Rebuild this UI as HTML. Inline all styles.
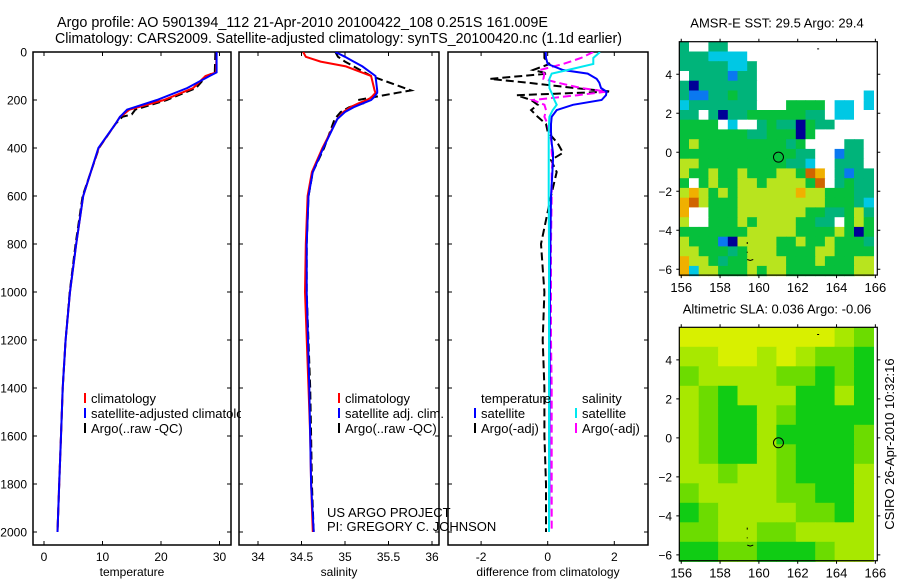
<!DOCTYPE html>
<html><head><meta charset="utf-8">
<style>
html,body{margin:0;padding:0;background:#fff;}
svg{display:block;font-family:"Liberation Sans",sans-serif;}
</style></head>
<body>
<svg id="fig" width="900" height="580" viewBox="0 0 900 580" xmlns="http://www.w3.org/2000/svg">
<defs>
<clipPath id="cp1"><rect x="33" y="52" width="198" height="493"/></clipPath>
<clipPath id="cp2"><rect x="239" y="52" width="200" height="493"/></clipPath>
<clipPath id="cp3"><rect x="448" y="52" width="200" height="493"/></clipPath>
<clipPath id="leg1"><rect x="0" y="380" width="241" height="60"/></clipPath>
</defs>
<text x="57" y="27" font-size="15" textLength="491" lengthAdjust="spacingAndGlyphs">Argo profile: AO 5901394_112 21-Apr-2010 20100422_108 0.251S 161.009E</text>
<text x="55" y="43" font-size="15" textLength="567" lengthAdjust="spacingAndGlyphs">Climatology: CARS2009. Satellite-adjusted climatology: synTS_20100420.nc (1.1d earlier)</text>
<g id="panels"></g>
<g id="maps"></g>
<text transform="translate(894,444) rotate(-90)" font-size="13" text-anchor="middle">CSIRO 26-Apr-2010 10:32:16</text>
</svg>
<script>
// ---------- profile data ----------
const depths = [0,85,100,150,200,240,260,270,300,400,500,600,800,1000,1200,1400,1600,1800,2000];
const tempClim = [29.5,29.4,27.6,25.5,20.5,14.6,13.6,13.0,12.2,9.35,8.0,6.7,5.5,4.45,3.7,3.2,2.9,2.6,2.3];
const tempSat  = [29.5,29.5,28.3,24.5,19.3,14.2,13.4,13.0,12.2,9.3,8.0,6.7,5.5,4.45,3.7,3.2,2.9,2.6,2.3];
const tempArgo = [29.3,29.2,27.8,26.0,21.0,15.6,15.0,13.4,12.2,9.4,8.0,6.6,5.4,4.4,3.7,3.2,2.9,2.6,2.3];

const salDepths = [0,20,40,60,100,160,170,190,200,215,230,250,280,400,500,600,800,1000,1400,1600,1800,2000];
const salClim = [34.52,34.55,34.72,35.01,35.3,35.34,35.35,35.3,35.25,35.15,35.06,34.98,34.91,34.74,34.62,34.57,34.55,34.54,34.58,34.6,34.61,34.63];
const salSat  = [34.89,35.0,35.1,35.2,35.35,35.37,35.37,35.33,35.3,35.2,35.1,35.0,34.91,34.75,34.63,34.58,34.56,34.56,34.59,34.6,34.61,34.64];
const salArgo = [34.89,34.92,35.0,35.1,35.3,35.76,35.6,35.3,35.15,35.2,35.05,34.95,34.88,34.76,34.63,34.58,34.56,34.56,34.6,34.61,34.62,34.64];

const diffDepths = [0,25,50,75,90,112,128,150,165,180,200,220,242,270,300,333,380,420,450,500,600,800,1000,1200,1400,1600,1800,2000];
const diffTempSat  = [-0.06,-0.05,0.0,0.46,1.2,1.47,1.55,1.6,1.77,1.75,1.62,0.76,0.27,0.12,0.1,0.1,0.12,0.16,0.16,0.14,0.1,0.08,0.07,0.06,0.06,0.05,0.05,0.04];
const diffSalSat   = [1.57,1.37,1.37,0.6,0.12,0.05,0.05,0.05,0.1,0.15,0.2,0.27,0.15,0.05,0.04,0.03,0.03,0.03,0.03,0.03,0.03,0.04,0.04,0.04,0.04,0.04,0.04,0.04];
const diffTempArgo = [-0.1,-0.1,0.05,-0.44,0.0,-1.73,-0.6,0.8,1.9,-0.93,-0.5,-0.3,-0.5,-0.3,-0.05,0.0,0.3,0.46,0.1,0.27,0.1,-0.2,-0.1,-0.15,-0.1,-0.1,-0.05,-0.05];
const diffSalArgo  = [1.37,1.0,0.46,-0.23,-0.1,-0.13,0.3,1.0,1.77,0.9,-0.44,-0.1,-0.05,-0.1,0.0,0.05,0.12,0.12,0.15,0.12,0.12,0.1,0.1,0.1,0.12,0.12,0.12,0.12];

const depthTicks = [0,200,400,600,800,1000,1200,1400,1600,1800,2000];
const tempTicks = [0,10,20,30];
const salTicks = [34,34.5,35,35.5,36];
const diffTicks = [-2,0,2];

// ---------- map data ----------
const sstRows = [
"TWWTTWWWWWWWWWWWWWWW","TTTCCCCWWWWWWWWWWWWW","TTTTTCCTWWWWWWWWWWWW","WTTTTBTTWWWWWWWWWWWW",
"TNTTTTTTWWWWWWWWWWWW","TBBTTGTTWWWWWWWWWWWC","CTTTTTTTWWWGGGGWCCWC","TTWTNTTGGGGGGTTWCCWW",
"GGGGWCWWTGTTNGTTWWWW","GGGGGGGTTGGGNGWWWWWW","GYGGGGGGGGGTGWWWWTTW","GGGGGGGGGGGGTTWWBTTW",
"YYGGGGGGGGGTTCWWTTTW","YGGYGGYGGGYYGROWTBTT","GWGYGGYYGYYYYGRWTGTT","YOYGYGYYYYYYOYYGGGTT",
"ORYGGGYYYYYYYYYGGGTC","OWWGGGYYYYYYYGGTTGYT","YWWGGGYGYYYYGGTTWGYG","GGGGGGGYYYYYGGGGYGNG",
"YGGGBNYYYYGGYGGYGGGT","YYGGGTGYYYGGGGYYGGGG","OYYGTGGYYYYGGGYGGGYY","OCYYGGGYGYYGGGGGGGYY"];
const slaRows = [
"YYYYYYYYLM","LLYYLYLMMG","MLLLLMMGMG","LMGLLLGGLG","LMGGLMGGGG","LMGGLGGGGM",
"LMGGLMGGGM","LLMLLMGGGL","MLLLLMMGGL","GMLLLLMMGL","MMLLMMLLLL","GGMMGGGMLL"];
const latTicks = [4,2,0,-2,-4,-6];
const lonTicks = [156,158,160,162,164,166];
const argoLon = 161.009, argoLat = -0.251;

const NS = "http://www.w3.org/2000/svg";
function mk(tag, attrs, parent){ const e=document.createElementNS(NS,tag); for(const k in attrs) e.setAttribute(k,attrs[k]); parent.appendChild(e); return e; }
const panels = document.getElementById('panels');
const maps = document.getElementById('maps');

const yD = d => 52 + 0.24*d;
const xT = t => 44 + 5.85*t;
const xS = s => 258 + 87*(s-34);
const xDf = v => 547.7 + 33.3*v;

function boxAxes(x0,x1,name,ticks,xf,labelFmt,title,showY){
  const g = mk('g',{},panels);
  
  
  const r = mk('rect',{x:x0,y:52,width:x1-x0,height:493,fill:'#fff',stroke:'#000','stroke-width':1.5},g);
  
  
  depthTicks.forEach(d=>{
    const y=yD(d);
    const tk = mk('path',{d:`M${x0} ${y}h4M${x1} ${y}h-4`,stroke:'#000','stroke-width':1},g);
    
    
    if(showY){
      const t = mk('text',{x:27,y:y+4.5,'font-size':12,'text-anchor':'end'},g);
      
      
      t.textContent=d;
    }
  });
  ticks.forEach(v=>{
    const x=xf(v);
    const tk = mk('path',{d:`M${x} 52v4M${x} 545v-4`,stroke:'#000','stroke-width':1},g);
    
    
    const t = mk('text',{x:x,y:561,'font-size':12,'text-anchor':'middle'},g);
    
    
    t.textContent=labelFmt(v);
  });
  const tt = mk('text',{x:(x0+x1)/2,y:576,'font-size':12,'text-anchor':'middle'},g);
  
  
  tt.textContent=title;
}
function line(g,ds,vs,xf,color,dash,name,clip){
  const pts = ds.map((d,i)=>xf(vs[i]).toFixed(1)+','+yD(d).toFixed(1)).join(' ');
  const a = {points:pts,fill:'none',stroke:color,'stroke-width':2,'clip-path':`url(#${clip})`};
  if(dash) a['stroke-dasharray']=dash;
  const p = mk('polyline',a,g);
  
  
}
function legendItem(g,mx,y,color,text,name,clip){
  const m = mk('line',{x1:mx,y1:y-10,x2:mx,y2:y,stroke:color,'stroke-width':2},g);
  
  
  const t = mk('text',{x:mx+6,y:y,'font-size':13},g);
  if(clip) t.setAttribute('clip-path',`url(#${clip})`);
  
  
  t.textContent=text;
}

boxAxes(33,231,'temperature',tempTicks,xT,v=>v,'temperature',true);
boxAxes(239,439,'salinity',salTicks,xS,v=>v,'salinity',false);
boxAxes(448,648,'difference',diffTicks,xDf,v=>v,'difference from climatology',false);

const lines = mk('g',{},panels);


line(lines,depths,tempArgo,xT,'#000','8,4','temperature-argo-line','cp1');
line(lines,depths,tempClim,xT,'#ff0000',null,'temperature-climatology-line','cp1');
line(lines,depths,tempSat,xT,'#0000ff',null,'temperature-satellite-line','cp1');
line(lines,salDepths,salArgo,xS,'#000','8,4','salinity-argo-line','cp2');
line(lines,salDepths,salClim,xS,'#ff0000',null,'salinity-climatology-line','cp2');
line(lines,salDepths,salSat,xS,'#0000ff',null,'salinity-satellite-line','cp2');
line(lines,diffDepths,diffTempArgo,xDf,'#000','8,4','diff-temperature-argo-line','cp3');
line(lines,diffDepths,diffSalArgo,xDf,'#ff00ff','8,4','diff-salinity-argo-line','cp3');
line(lines,diffDepths,diffTempSat,xDf,'#0000ff',null,'diff-temperature-satellite-line','cp3');
line(lines,diffDepths,diffSalSat,xDf,'#00e8f0',null,'diff-salinity-satellite-line','cp3');

const lg = mk('g',{},panels);


legendItem(lg,85,403,'#ff0000','climatology','legend-temp-climatology');
legendItem(lg,85,418,'#0000ff','satellite-adjusted climatology','legend-temp-satellite','leg1');
legendItem(lg,85,433,'#000','Argo(..raw -QC)','legend-temp-argo');
legendItem(lg,339,403,'#ff0000','climatology','legend-sal-climatology');
legendItem(lg,339,418,'#0000ff','satellite adj. clim.','legend-sal-satellite');
legendItem(lg,339,433,'#000','Argo(..raw -QC)','legend-sal-argo');
const lt1 = mk('text',{x:481,y:403,'font-size':13},lg);


lt1.textContent='temperature';
const lt2 = mk('text',{x:582,y:403,'font-size':13},lg);


lt2.textContent='salinity';
legendItem(lg,475,418,'#0000ff','satellite','legend-diff-temp-satellite');
legendItem(lg,475,433,'#000','Argo(-adj)','legend-diff-temp-argo');
legendItem(lg,576,418,'#00e8f0','satellite','legend-diff-sal-satellite');
legendItem(lg,576,433,'#ff00ff','Argo(-adj)','legend-diff-sal-argo');
const c1 = mk('text',{x:327,y:517,'font-size':13},lg);


c1.textContent='US ARGO PROJECT';
const c2 = mk('text',{x:327,y:531,'font-size':13},lg);


c2.textContent='PI: GREGORY C. JOHNSON';

// ---------- maps ----------
const sstCol = {W:'#ffffff',T:'#00b47a',C:'#00c8e4',B:'#0a78f0',N:'#000096',G:'#06c03c',Y:'#b8e41e',O:'#f0b000',R:'#d06400'};
const slaCol = {Y:'#d8f000',L:'#a8e800',M:'#6cdc00',G:'#10cc14'};
function drawMap(top,title,rows,cols,step,name){
  const x0=679.3,x1=877.3,lon0=155.9,lat0=5.67;
  const xm = lon => x0 + (lon-lon0)*(x1-x0)/10.2;
  const ym = lat => top + (lat0-lat)*19.5;
  const bottom = ym(-6.3);
  const g = mk('g',{},maps);
  
  
  const tt = mk('text',{x:777,y:top-14,'font-size':13,'text-anchor':'middle'},g);
  
  
  tt.textContent=title;
  rows.forEach((row,r)=>{
    [...row].forEach((ch,c)=>{
      const la = lat0 - r*step, lo = lon0 + c*step;
      const cell = mk('rect',{x:xm(lo).toFixed(1),y:ym(la).toFixed(1),width:(step*19.42+0.6).toFixed(1),height:(step*19.5+0.6).toFixed(1),fill:cols[ch]},g);
      
      
    });
  });
  const fr = mk('rect',{x:x0,y:top,width:x1-x0,height:bottom-top,fill:'none',stroke:'#000','stroke-width':1.2},g);
  
  
  latTicks.forEach(l=>{
    const y=ym(l);
    const tk = mk('path',{d:`M${x0} ${y}h-3M${x1} ${y}h3`,stroke:'#000'},g);
    
    
    const t = mk('text',{x:672,y:y+4.5,'font-size':12,'text-anchor':'end'},g);
    
    
    t.textContent = l<0 ? '\u2212'+(-l) : l;
  });
  lonTicks.forEach(l=>{
    const x=xm(l);
    const tk = mk('path',{d:`M${x} ${top}v-3M${x} ${bottom}v3`,stroke:'#000'},g);
    
    
    const t = mk('text',{x:x,y:bottom+17,'font-size':13,'text-anchor':'middle'},g);
    
    
    t.textContent=l;
  });
  const circ = mk('circle',{cx:xm(argoLon),cy:ym(argoLat),r:5,fill:'none',stroke:'#000','stroke-width':1},g);
  
  
  const isl = mk('path',{d:`M${xm(163)} ${ym(5.3)}h2M${xm(159.4)} ${ym(-4.6)}v2M${xm(159.4)} ${ym(-5.1)}v1M${xm(159.4)} ${ym(-5.5)}l3 1l3 -1`,stroke:'#000','stroke-width':1,fill:'none'},g);
  
  
}
drawMap(41.7,'AMSR-E SST: 29.5 Argo: 29.4',sstRows,sstCol,0.5,'sst-map');
drawMap(327.3,'Altimetric SLA: 0.036 Argo: -0.06',slaRows,slaCol,1,'sla-map');
</script>
</body></html>
